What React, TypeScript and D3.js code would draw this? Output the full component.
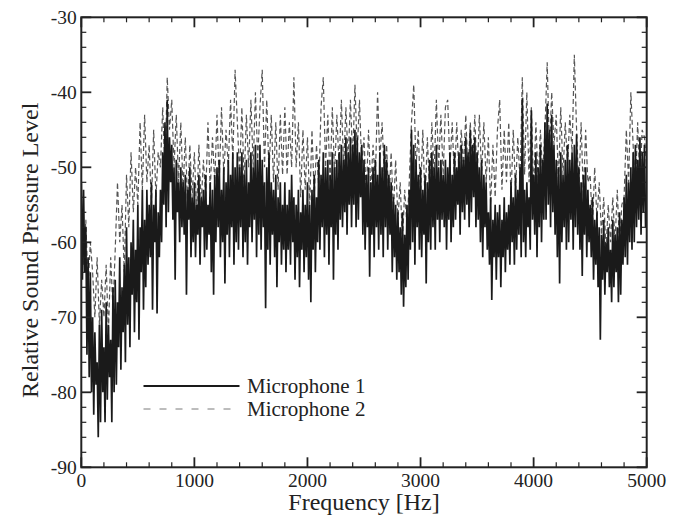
import React from "react";
import * as d3 from "d3";

const MIC1_STEP = 10; // Hz between samples of Microphone 1
const MIC2_STEP = 20; // Hz between samples of Microphone 2
const X_TICKS = [0, 1000, 2000, 3000, 4000, 5000];
const Y_TICKS = [-90, -80, -70, -60, -50, -40, -30];

// Microphone 1 (solid black), values every 10 Hz from 0 to 5000 Hz (one row = 100 Hz)
const mic1: number[] = [
  -52, -65, -53, -64, -58, -75, -62, -78, -64, -80,
  -70, -83, -72, -79, -76, -86, -71, -84, -69, -80,
  -74, -84, -68, -81, -71, -78, -73, -84, -66, -80,
  -65, -79, -68, -74, -62, -77, -66, -72, -63, -76,
  -58, -71, -62, -74, -60, -67, -57, -72, -61, -68,
  -55, -73, -58, -64, -53, -69, -57, -66, -53, -63,
  -55, -62, -52, -69, -55, -60, -53, -69.5, -56, -62,
  -53, -60, -48, -55, -44, -58, -41, -56, -46, -52,
  -47, -57, -50, -65, -49, -56, -52, -60, -50, -58,
  -52, -59, -51, -67, -53, -57, -50, -62, -54, -60,
  -52, -62, -55, -59, -51, -63, -54, -58, -53, -62,
  -51, -61, -55, -59, -52, -64, -53, -67, -51, -60,
  -50, -58, -49, -62, -53, -60, -50, -65.5, -52, -59,
  -49, -62, -51, -58, -48, -63, -50, -60, -48, -61,
  -50, -58, -48, -62, -51, -60, -49, -63, -52, -58,
  -48, -60, -50, -57, -47, -62, -49, -59, -47, -61,
  -49, -58, -52, -68.8, -50, -61, -48, -63, -52, -59,
  -53, -62, -51, -66, -54, -60, -52, -63, -55, -61,
  -52, -64, -55, -61, -53, -63, -51, -60, -54, -65,
  -55, -62, -53, -66, -56, -61, -53, -64, -55, -62,
  -52, -65, -55, -68, -53, -61, -51, -64, -54, -60,
  -49, -61, -51, -58, -48, -62, -50, -59, -49, -63,
  -51, -58, -48, -65, -50, -59, -49, -61, -48, -57,
  -47, -58, -49, -56, -46, -59, -48, -55, -46, -58,
  -47, -55, -45, -58, -46, -57, -48, -54, -47, -59,
  -49, -61, -51, -58, -50, -64.6, -52, -59, -50, -62,
  -49, -58, -51, -61, -48, -59, -50, -62, -47, -58,
  -49, -61, -51, -59, -52, -64, -54, -62, -55, -65,
  -56, -64, -58, -67, -56, -68.6, -59, -66, -55, -65,
  -53, -61, -45, -60, -47, -63, -49, -58, -51, -61,
  -50, -62, -53, -59, -51, -65.5, -52, -60, -49, -61,
  -48, -58, -50, -61, -47, -57, -50, -60, -49, -57,
  -51, -58, -49, -61, -50, -57, -48, -60, -51, -58,
  -48, -57, -50, -55, -48, -59, -47, -56, -49, -57,
  -46, -55, -48, -58, -45, -56, -47, -54, -46, -58,
  -48, -57, -50, -60, -49, -62, -51, -58, -52, -61,
  -56, -63, -54, -67.7, -57, -62, -55, -65, -56, -62,
  -55, -66, -57, -62, -54, -64, -56, -61, -55, -63,
  -52, -60, -54, -63, -51, -61, -53, -59, -50, -62,
  -40.8, -60, -53, -62, -52, -58, -54, -61, -42.4, -57,
  -51, -59, -48, -62, -50, -58, -47, -60, -49, -57,
  -44, -57, -41.5, -55, -45, -58, -43, -56, -47, -59,
  -49, -62, -50, -65.5, -48, -60, -51, -58, -49, -61,
  -47, -60, -49, -57, -48, -61, -47, -58, -45.6, -59,
  -50, -61, -52, -64.5, -51, -59, -50, -62, -53, -60,
  -55, -62, -54, -65, -57, -63, -56, -66, -58, -73,
  -59, -65, -57, -67, -60, -64, -58, -66, -61, -68,
  -57, -66, -59, -64, -58, -68, -56, -67, -57, -63,
  -54, -62, -51, -63, -52, -60, -50, -61, -48, -60,
  -47, -58, -49, -57, -46, -59, -48, -56, -47, -58,
  -55,
];

// Microphone 2 (dashed grey), values every 20 Hz from 0 to 5000 Hz (one row = 100 Hz)
const mic2: number[] = [
  -55, -63, -57, -66, -60,
  -64, -70, -62, -71, -65,
  -70, -63, -72, -62, -69,
  -61, -52, -60, -55, -64,
  -51, -58, -48, -56, -50,
  -55, -44, -53, -43, -52,
  -47, -55, -45, -54, -48,
  -50, -42, -51, -38, -45,
  -41, -50, -43, -52, -44,
  -53, -46, -55, -47, -54,
  -48, -56, -47, -55, -49,
  -54, -44, -53, -46, -52,
  -43, -52, -42, -51, -45,
  -50, -41, -49, -37, -44,
  -51, -42, -52, -43, -50,
  -41, -50, -40, -49, -42,
  -37, -50, -41, -51, -43,
  -52, -44, -53, -43, -51,
  -42, -51, -44, -50, -38,
  -50, -44, -54, -45, -53,
  -46, -55, -45, -54, -47,
  -53, -42, -38, -50, -43,
  -52, -42, -51, -43, -50,
  -41, -50, -42, -49, -41,
  -49, -39, -48, -41, -50,
  -46, -54, -45, -53, -47,
  -52, -40, -49, -44, -51,
  -47, -55, -48, -56, -49,
  -57, -52, -60, -53, -58,
  -52, -44, -39, -50, -45,
  -54, -45, -55, -46, -53,
  -44, -51, -41, -50, -43,
  -51, -42, -41, -50, -44,
  -52, -44, -51, -45, -50,
  -43, -51, -44, -50, -43,
  -52, -43, -51, -44, -52,
  -46, -55, -47, -54, -45,
  -41, -53, -45, -52, -44,
  -54, -45, -53, -46, -52,
  -38, -51, -40, -52, -42,
  -53, -44, -52, -45, -51,
  -45, -36, -48, -40, -47,
  -43, -52, -42, -51, -44,
  -50, -43, -48, -35, -45,
  -53, -44, -54, -45, -52,
  -51, -58, -50, -57, -52,
  -59, -54, -61, -55, -60,
  -54, -60, -53, -61, -55,
  -54, -45, -52, -40, -47,
  -53, -44, -52, -45, -46,
  -50,
];

const SERIES_NAMES = ["Microphone 1", "Microphone 2"];

const W = 683;
const H = 516;
const L = 81.3;
const R = 646.7;
const T = 17.3;
const B = 467.3;
const FONT = '"Liberation Serif", "Times New Roman", Times, serif';
const TXT = { fontFamily: FONT };

export default function App() {
  const x = d3.scaleLinear().domain([0, 5000]).range([L, R]);
  const y = d3.scaleLinear().domain([-90, -30]).range([B, T]);

  const line1 = d3
    .line<number>()
    .x((_, i) => x(i * MIC1_STEP))
    .y((v) => y(v));
  const line2 = d3
    .line<number>()
    .x((_, i) => x(i * MIC2_STEP))
    .y((v) => y(v));

  const xMinor = d3.range(0, 5001, 200).filter((v) => v % 1000 !== 0);
  const yMinor = d3.range(-90, -29, 2).filter((v) => v % 10 !== 0);

  const MAJ = 10;
  const MIN = 5;

  return (
    <svg
      width={W}
      height={H}
      style={{ position: "absolute", left: 0, top: 0, background: "#fff" }}
    >
      <rect x={0} y={0} width={W} height={H} fill="#fff" />
      <defs>
        <clipPath id="plot">
          <rect x={L} y={T} width={R - L} height={B - T} />
        </clipPath>
      </defs>
      <g clipPath="url(#plot)">
        <path
          d={line2(mic2) || ""}
          fill="none"
          stroke="#555"
          strokeWidth={1.2}
          strokeDasharray="5,3"
        />
        <path
          d={line1(mic1) || ""}
          fill="none"
          stroke="#1a1a1a"
          strokeWidth={1.7}
          strokeLinejoin="bevel"
        />
      </g>

      {/* ticks */}
      <g stroke="#222" strokeWidth={1.2}>
        {X_TICKS.map((v) => (
          <g key={"xm" + v}>
            <line x1={x(v)} x2={x(v)} y1={B} y2={B - MAJ} strokeWidth={1.8} />
            <line x1={x(v)} x2={x(v)} y1={T} y2={T + MAJ} strokeWidth={1.8} />
          </g>
        ))}
        {xMinor.map((v) => (
          <g key={"xn" + v}>
            <line x1={x(v)} x2={x(v)} y1={B} y2={B - MIN} />
            <line x1={x(v)} x2={x(v)} y1={T} y2={T + MIN} />
          </g>
        ))}
        {Y_TICKS.map((v) => (
          <g key={"ym" + v}>
            <line x1={L} x2={L + MAJ} y1={y(v)} y2={y(v)} strokeWidth={1.8} />
            <line x1={R} x2={R - MAJ} y1={y(v)} y2={y(v)} strokeWidth={1.8} />
          </g>
        ))}
        {yMinor.map((v) => (
          <g key={"yn" + v}>
            <line x1={L} x2={L + MIN} y1={y(v)} y2={y(v)} />
            <line x1={R} x2={R - MIN} y1={y(v)} y2={y(v)} />
          </g>
        ))}
      </g>

      <rect
        x={L}
        y={T}
        width={R - L}
        height={B - T}
        fill="none"
        stroke="#222"
        strokeWidth={2}
      />

      {/* tick labels */}
      <g fill="#222">
        {X_TICKS.map((v) => (
          <text key={"xl" + v} x={x(v)} y={487} textAnchor="middle" fontSize={19.5} style={TXT}>
            {v}
          </text>
        ))}
        {Y_TICKS.map((v) => (
          <text key={"yl" + v} x={L - 4.5} y={y(v) + 6.5} textAnchor="end" fontSize={19.5} style={TXT}>
            {v}
          </text>
        ))}
      </g>

      {/* axis titles */}
      <text x={(L + R) / 2} y={510} textAnchor="middle" fontSize={24} fill="#222" style={TXT}>
        Frequency [Hz]
      </text>
      <text
        transform={`translate(37.5, ${(T + B) / 2 + 8}) rotate(-90)`}
        textAnchor="middle"
        fontSize={24}
        fill="#222"
        style={TXT}
      >
        Relative Sound Pressure Level
      </text>

      {/* legend */}
      <line x1={143.5} x2={239.5} y1={386} y2={386} stroke="#1a1a1a" strokeWidth={2} />
      <text x={247} y={393} fontSize={21} fill="#222" style={TXT}>
        {SERIES_NAMES[0]}
      </text>
      <line
        x1={143.5}
        x2={239.5}
        y1={409}
        y2={409}
        stroke="#7a7a7a"
        strokeWidth={1}
        strokeDasharray="7,9"
      />
      <text x={247} y={416} fontSize={21} fill="#222" style={TXT}>
        {SERIES_NAMES[1]}
      </text>
    </svg>
  );
}
